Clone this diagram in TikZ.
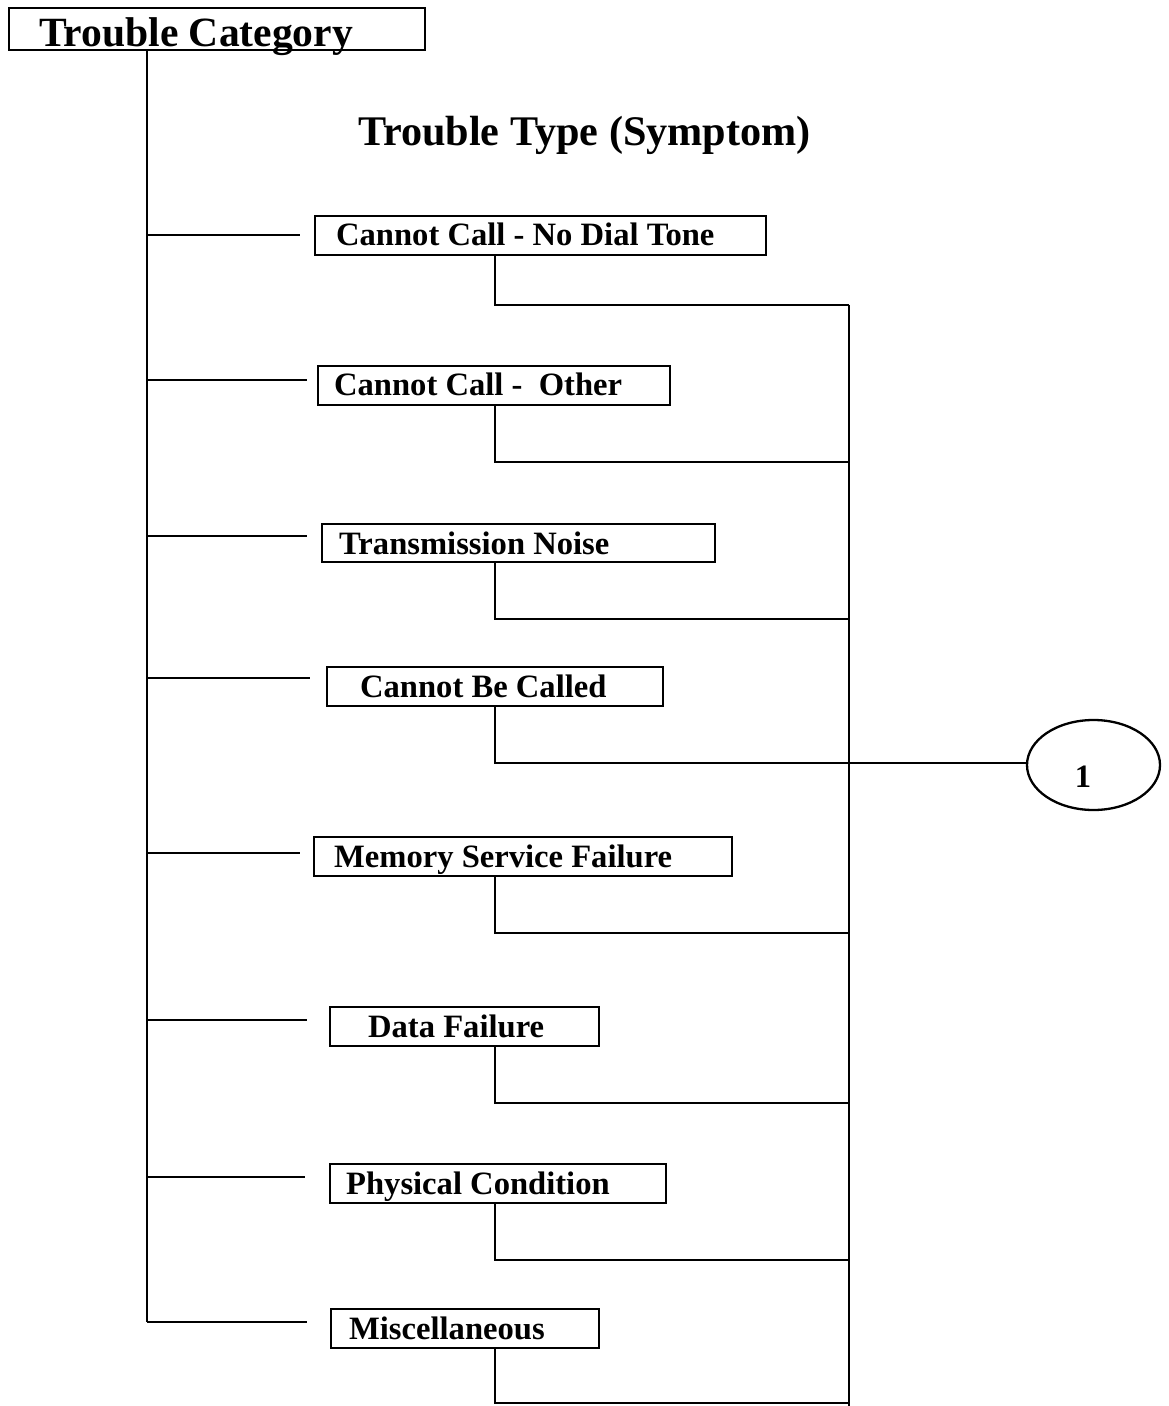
\documentclass[tikz,border=0pt]{standalone}
\usepackage{fontspec}
\setmainfont{Liberation Serif}
\usetikzlibrary{shapes.geometric}

\begin{document}
\begin{tikzpicture}[x=0.5pt,y=-0.5pt,line width=1.15pt,
  box/.style={draw,rectangle,inner sep=0pt,anchor=north west},
  lab/.style={anchor=base west,inner sep=0pt,font=\bfseries\fontsize{16.3}{18}\selectfont},
  head/.style={anchor=base west,inner sep=0pt,font=\bfseries\fontsize{20.8}{24}\selectfont}]
  \useasboundingbox (0,0) rectangle (1168,1406);

  % category box and heading
  \node[box,minimum width=208pt,minimum height=21pt] (cat) at (8,7) {};
  \node[head] (catlab) at (38,47) {Trouble Category};
  \node[head,font=\bfseries\fontsize{21.1}{24}\selectfont] (title) at (357,146) {Trouble Type (Symptom)};

  % trunk and right-hand rail
  \coordinate (tr) at (147,1322);
  \coordinate (railtop) at (849,305);
  \coordinate (railbot) at (849,1406);
  \draw (cat.south -| tr) -- (tr);
  \draw (railtop) -- (railbot);

  % symptom boxes: index / box corners / branch end x / branch y / label x / drop y / label
  \foreach \i/\xa/\ya/\xb/\yb/\tx/\ty/\lx/\dy/\txt in {
    1/314/215/765/254/300/235/335/305/Cannot Call - No Dial Tone,
    2/317/365/669/404/307/380/333/462/Cannot Call -\ \ Other,
    3/321/523/714/561/307/536/338/619/Transmission Noise,
    4/326/666/662/705/310/678/359/763/Cannot Be Called,
    5/313/836/731/875/300/853/333/933/Memory Service Failure,
    6/329/1006/598/1045/307/1020/367/1103/Data Failure,
    7/329/1163/665/1202/305/1177/345/1260/Physical Condition,
    8/330/1308/598/1347/307/1322/348/1403/Miscellaneous}
  {
    \node[box,minimum width={(\xb-\xa)*0.5pt},minimum height={(\yb-\ya)*0.5pt}] (b\i) at (\xa,\ya) {};
    \node[lab] (t\i) at (\lx,\ya+31) {\txt};
    \coordinate (l\i) at (\tx,\ty);
    \draw (tr |- l\i) -- (l\i);
    \coordinate (d\i) at (495,\dy);
    \draw (b\i.south -| d\i) -- (d\i) -- (railtop |- d\i);
  }

  % off-page connector
  \node[draw,ellipse,minimum width=66.5pt,minimum height=45pt,inner sep=0pt] (conn) at (1093.5,765) {};
  \node[anchor=base,inner sep=0pt,font=\bfseries\fontsize{16.3}{18}\selectfont] (connlab) at (1083,787) {1};
  \draw (d4) -- (conn.west |- d4);
\end{tikzpicture}
\end{document}
